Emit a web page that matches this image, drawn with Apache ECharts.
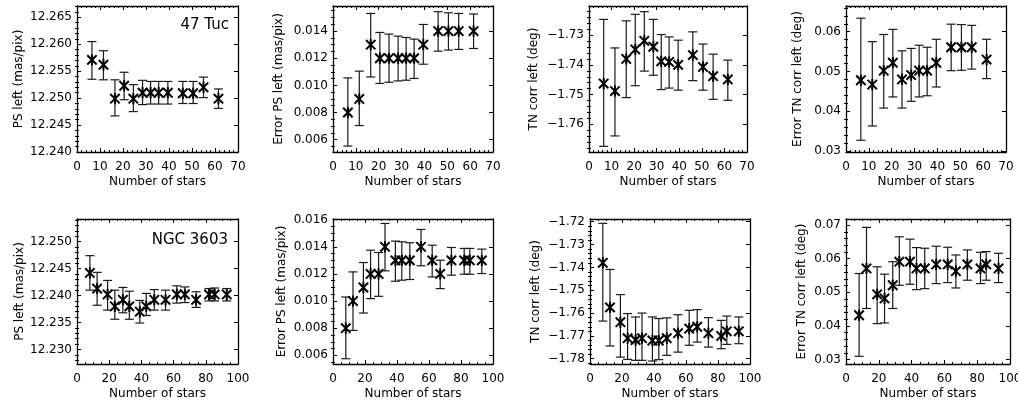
<!DOCTYPE html>
<html>
<head>
<meta charset="utf-8">
<script src="https://cdn.jsdelivr.net/npm/echarts@6/dist/echarts.min.js"></script>
<style>html,body{margin:0;padding:0;background:#fff}#c{width:1018px;height:405px}</style>
</head>
<body>
<div id="c"></div>
<script>
// ---------- data ----------
const xTop = [6.5, 11.5, 16.5, 20.5, 24.5, 28.5, 32, 35.5, 39.5, 46, 50.5, 55, 61.5];
const xBot = [8, 12.5, 19, 23.5, 28.5, 32.5, 39, 43, 48, 55, 62, 67, 74, 82, 85.5, 93];

const xTicksTop = [0, 10, 20, 30, 40, 50, 60, 70];
const xTicksBot = [0, 20, 40, 60, 80, 100];

// 47 Tuc
const psTuc   = [12.2571, 12.2562, 12.2499, 12.2523, 12.2499, 12.2510, 12.2510, 12.2510, 12.2510, 12.2509, 12.2509, 12.2520, 12.2499];
const psTucLo = [12.2535, 12.2534, 12.2467, 12.2497, 12.2475, 12.2488, 12.2489, 12.2489, 12.2489, 12.2490, 12.2490, 12.2501, 12.2481];
const psTucHi = [12.2605, 12.2588, 12.2534, 12.2548, 12.2525, 12.2533, 12.2531, 12.2531, 12.2531, 12.2531, 12.2531, 12.2539, 12.2517];

const epsTuc   = [0.0080, 0.0090, 0.0130, 0.0120, 0.0120, 0.0120, 0.0120, 0.0120, 0.0130, 0.0140, 0.0140, 0.0140, 0.0140];
const epsTucLo = [0.00553, 0.00704, 0.01062, 0.01014, 0.01023, 0.01033, 0.01038, 0.01051, 0.01156, 0.01252, 0.01260, 0.01265, 0.01272];
const epsTucHi = [0.01055, 0.01105, 0.01530, 0.01390, 0.01378, 0.01363, 0.01353, 0.01341, 0.01449, 0.01543, 0.01535, 0.01530, 0.01526];

const tnTuc   = [-1.7463, -1.7488, -1.7380, -1.7348, -1.7319, -1.7339, -1.7388, -1.7390, -1.7400, -1.7367, -1.7407, -1.7438, -1.7449];
const tnTucLo = [-1.7674, -1.7639, -1.7510, -1.7470, -1.7421, -1.7435, -1.7483, -1.7478, -1.7485, -1.7453, -1.7485, -1.7516, -1.7519];
const tnTucHi = [-1.7247, -1.7343, -1.7252, -1.7230, -1.7221, -1.7247, -1.7298, -1.7306, -1.7317, -1.7289, -1.7330, -1.7364, -1.7384];

const etnTuc   = [0.0478, 0.0467, 0.0502, 0.0522, 0.0480, 0.0491, 0.0502, 0.0502, 0.0522, 0.0561, 0.0561, 0.0561, 0.0530];
const etnTucLo = [0.0327, 0.0363, 0.0408, 0.0436, 0.0408, 0.0425, 0.0436, 0.0439, 0.0461, 0.0502, 0.0503, 0.0506, 0.0482];
const etnTucHi = [0.0634, 0.0575, 0.0593, 0.0606, 0.0552, 0.0558, 0.0566, 0.0561, 0.0581, 0.0619, 0.0618, 0.0616, 0.0581];

// NGC 3603
const psNgc   = [12.2442, 12.2413, 12.2402, 12.2380, 12.2392, 12.2380, 12.2370, 12.2380, 12.2392, 12.2392, 12.2402, 12.2402, 12.2392, 12.2402, 12.2402, 12.2402];
const psNgcLo = [12.2410, 12.2382, 12.2373, 12.2356, 12.2368, 12.2356, 12.2349, 12.2363, 12.2373, 12.2373, 12.2386, 12.2387, 12.2378, 12.2390, 12.2390, 12.2390];
const psNgcHi = [12.2474, 12.2443, 12.2428, 12.2410, 12.2415, 12.2408, 12.2391, 12.2404, 12.2411, 12.2410, 12.2418, 12.2416, 12.2407, 12.2413, 12.2414, 12.2413];

const epsNgc   = [0.0080, 0.0100, 0.0110, 0.0120, 0.0120, 0.0140, 0.0130, 0.0130, 0.0130, 0.0140, 0.0130, 0.0120, 0.0130, 0.0130, 0.0130, 0.0130];
const epsNgcLo = [0.00575, 0.00784, 0.00912, 0.01018, 0.01035, 0.01223, 0.01146, 0.01154, 0.01159, 0.01260, 0.01178, 0.01092, 0.01191, 0.01198, 0.01198, 0.01203];
const epsNgcHi = [0.01030, 0.01215, 0.01284, 0.01375, 0.01358, 0.01572, 0.01442, 0.01437, 0.01430, 0.01528, 0.01412, 0.01301, 0.01395, 0.01388, 0.01388, 0.01383];

const tnNgc   = [-1.7380, -1.7575, -1.7640, -1.7710, -1.7718, -1.7710, -1.7720, -1.7720, -1.7710, -1.7688, -1.7668, -1.7660, -1.7688, -1.7700, -1.7680, -1.7680];
const tnNgcLo = [-1.7635, -1.7744, -1.7793, -1.7803, -1.7807, -1.7807, -1.7810, -1.7804, -1.7785, -1.7771, -1.7741, -1.7727, -1.7749, -1.7756, -1.7737, -1.7734];
const tnNgcHi = [-1.7207, -1.7409, -1.7519, -1.7602, -1.7617, -1.7600, -1.7617, -1.7624, -1.7621, -1.7607, -1.7588, -1.7585, -1.7620, -1.7632, -1.7613, -1.7617];

const etnNgc   = [0.0432, 0.0571, 0.0494, 0.0482, 0.0521, 0.0591, 0.0591, 0.0571, 0.0571, 0.0583, 0.0583, 0.0563, 0.0583, 0.0571, 0.0583, 0.0571];
const etnNgcLo = [0.0310, 0.0452, 0.0407, 0.0409, 0.0452, 0.0521, 0.0524, 0.0508, 0.0511, 0.0526, 0.0529, 0.0513, 0.0536, 0.0526, 0.0536, 0.0529];
const etnNgcHi = [0.0556, 0.0693, 0.0576, 0.0554, 0.0591, 0.0665, 0.0658, 0.0633, 0.0631, 0.0637, 0.0634, 0.0611, 0.0626, 0.0619, 0.0621, 0.0616];

// y tick labels
const yTicksPsTuc  = [12.240, 12.245, 12.250, 12.255, 12.260, 12.265];
const yTicksEpsTuc = [0.006, 0.008, 0.010, 0.012, 0.014];
const yTicksTnTuc  = [-1.76, -1.75, -1.74, -1.73];
const yTicksEtnTuc = [0.03, 0.04, 0.05, 0.06];
const yTicksPsNgc  = [12.230, 12.235, 12.240, 12.245, 12.250];
const yTicksEpsNgc = [0.006, 0.008, 0.010, 0.012, 0.014, 0.016];
const yTicksTnNgc  = [-1.78, -1.77, -1.76, -1.75, -1.74, -1.73, -1.72];
const yTicksEtnNgc = [0.03, 0.04, 0.05, 0.06, 0.07];

// axis ranges
const yRangePsTuc  = [12.2400, 12.2671];
const yRangeEpsTuc = [0.00509, 0.01585];
const yRangeTnTuc  = [-1.7693, -1.7202];
const yRangeEtnTuc = [0.02975, 0.06647];
const yRangePsNgc  = [12.2273, 12.2542];
const yRangeEpsNgc = [0.00536, 0.01605];
const yRangeTnNgc  = [-1.7823, -1.7188];
const yRangeEtnNgc = [0.02871, 0.07179];

// ---------- layout ----------
const FONT = 'DejaVu Sans';
const panels = [
  {g:[77,6,161,146],  x:xTop, xt:xTicksTop, xm:5, y:psTuc,  lo:psTucLo,  hi:psTucHi,  yr:yRangePsTuc,  yt:yTicksPsTuc,  dec:3, ym:5, name:'PS left (mas/pix)',        gap:52, lm:9, ng:24},
  {g:[333,6,160,146], x:xTop, xt:xTicksTop, xm:5, y:epsTuc, lo:epsTucLo, hi:epsTucHi, yr:yRangeEpsTuc, yt:yTicksEpsTuc, dec:3, ym:4, name:'Error PS left (mas/pix)',  gap:48, lm:9, ng:24},
  {g:[589,6,158,146], x:xTop, xt:xTicksTop, xm:5, y:tnTuc,  lo:tnTucLo,  hi:tnTucHi,  yr:yRangeTnTuc,  yt:yTicksTnTuc,  dec:2, ym:5, name:'TN corr left (deg)',       gap:49, lm:9, ng:24},
  {g:[846,6,160,146], x:xTop, xt:xTicksTop, xm:5, y:etnTuc, lo:etnTucLo, hi:etnTucHi, yr:yRangeEtnTuc, yt:yTicksEtnTuc, dec:2, ym:5, name:'Error TN corr left (deg)', gap:42, lm:9, ng:24},
  {g:[77,219,161,145],  x:xBot, xt:xTicksBot, xm:4, y:psNgc,  lo:psNgcLo,  hi:psNgcHi,  yr:yRangePsNgc,  yt:yTicksPsNgc,  dec:3, ym:5, name:'PS left (mas/pix)',        gap:48, lm:9, ng:24},
  {g:[333,219,160,145], x:xBot, xt:xTicksBot, xm:4, y:epsNgc, lo:epsNgcLo, hi:epsNgcHi, yr:yRangeEpsNgc, yt:yTicksEpsNgc, dec:3, ym:4, name:'Error PS left (mas/pix)',  gap:45, lm:9, ng:24},
  {g:[590,219,160,145], x:xBot, xt:xTicksBot, xm:4, y:tnNgc,  lo:tnNgcLo,  hi:tnNgcHi,  yr:yRangeTnNgc,  yt:yTicksTnNgc,  dec:2, ym:5, name:'TN corr left (deg)',       gap:48, lm:9, ng:24},
  {g:[846,219,164,145], x:xBot, xt:xTicksBot, xm:4, y:etnNgc, lo:etnNgcLo, hi:etnNgcHi, yr:yRangeEtnNgc, yt:yTicksEtnNgc, dec:2, ym:5, name:'Error TN corr left (deg)', gap:38, lm:9, ng:24}
];

function minorValues(ticks, n, lo, hi) {
  const step = (ticks[1] - ticks[0]) / n;
  const out = [];
  for (let k = -200; k <= 200; k++) {
    const v = ticks[0] + k * step;
    if (v < lo - step * 1e-3 || v > hi + step * 1e-3) continue;
    if (k % n === 0) continue;
    out.push(v);
  }
  return out;
}

const line = {color: '#000', width: 1.3};
const grids = [], xAxes = [], yAxes = [], series = [];

panels.forEach((p, i) => {
  grids.push({left: p.g[0], top: p.g[1], width: p.g[2], height: p.g[3], containLabel: false, outerBoundsMode: 'none'});
  const xmax = p.xt[p.xt.length - 1];
  const xint = p.xt[1] - p.xt[0];
  const xBase = {
    gridIndex: i, type: 'value', min: p.xt[0], max: xmax, interval: xint,
    splitLine: {show: false},
    axisLine: {show: true, onZero: false, lineStyle: line},
    axisTick: {show: true, inside: true, length: 4, lineStyle: {color: '#000', width: 1}},
    minorTick: {show: true, splitNumber: p.xm, length: 2, lineStyle: {color: '#000', width: 1}}
  };
  xAxes.push(Object.assign({}, xBase, {
    position: 'bottom',
    axisLabel: {show: true, margin: p.lm, fontSize: 12, fontFamily: FONT, color: '#000'},
    name: 'Number of stars', nameLocation: 'middle', nameGap: p.ng,
    nameTextStyle: {fontSize: 12, fontFamily: FONT, color: '#000'}
  }));
  xAxes.push(Object.assign({}, xBase, {position: 'top', axisLabel: {show: false}}));

  const minors = minorValues(p.yt, p.ym, p.yr[0], p.yr[1]);
  const fmt = v => v.toFixed(p.dec).replace('-', '\u2212');
  const yBase = {gridIndex: i, type: 'value', min: p.yr[0], max: p.yr[1], splitLine: {show: false}};
  yAxes.push(Object.assign({}, yBase, {
    position: 'left',
    axisLine: {show: true, onZero: false, lineStyle: line},
    axisTick: {show: true, inside: true, length: 4, customValues: p.yt, lineStyle: {color: '#000', width: 1}},
    axisLabel: {show: true, customValues: p.yt, formatter: fmt, margin: 5, fontSize: 12, fontFamily: FONT, color: '#000'},
    name: p.name, nameLocation: 'middle', nameGap: p.gap, nameRotate: 90,
    nameTextStyle: {fontSize: 12, fontFamily: FONT, color: '#000'}
  }));
  yAxes.push(Object.assign({}, yBase, {
    position: 'left', offset: 0,
    axisLine: {show: false},
    axisTick: {show: true, inside: true, length: 2, customValues: minors, lineStyle: {color: '#000', width: 1}},
    axisLabel: {show: false}
  }));
  yAxes.push(Object.assign({}, yBase, {
    position: 'right',
    axisLine: {show: true, onZero: false, lineStyle: line},
    axisTick: {show: true, inside: true, length: 4, customValues: p.yt, lineStyle: {color: '#000', width: 1}},
    axisLabel: {show: false}
  }));
  yAxes.push(Object.assign({}, yBase, {
    position: 'right', offset: 0,
    axisLine: {show: false},
    axisTick: {show: true, inside: true, length: 2, customValues: minors, lineStyle: {color: '#000', width: 1}},
    axisLabel: {show: false}
  }));

  const data = p.x.map((xv, k) => [xv, p.y[k], p.lo[k], p.hi[k]]);
  series.push({
    type: 'custom',
    xAxisIndex: 2 * i,
    yAxisIndex: 4 * i,
    data: data,
    encode: {x: 0, y: [1, 2, 3]},
    clip: false,
    renderItem: function (params, api) {
      const xv = api.value(0);
      const c = api.coord([xv, api.value(1)]);
      const l = api.coord([xv, api.value(2)]);
      const h = api.coord([xv, api.value(3)]);
      const cw = 4.5, s = 5.6, d = 4.7;
      const bar = {stroke: '#1a1a1a', lineWidth: 1.2};
      const ast = {stroke: '#000', lineWidth: 2};
      return {
        type: 'group',
        children: [
          {type: 'line', shape: {x1: c[0], y1: h[1], x2: c[0], y2: l[1]}, style: bar},
          {type: 'line', shape: {x1: c[0] - cw, y1: h[1], x2: c[0] + cw, y2: h[1]}, style: bar},
          {type: 'line', shape: {x1: c[0] - cw, y1: l[1], x2: c[0] + cw, y2: l[1]}, style: bar},
          {type: 'line', shape: {x1: c[0], y1: c[1] - s, x2: c[0], y2: c[1] + s}, style: ast},
          {type: 'line', shape: {x1: c[0] - d, y1: c[1] - d, x2: c[0] + d, y2: c[1] + d}, style: ast},
          {type: 'line', shape: {x1: c[0] - d, y1: c[1] + d, x2: c[0] + d, y2: c[1] - d}, style: ast}
        ]
      };
    }
  });
});

const chart = echarts.init(document.getElementById('c'), null, {renderer: 'canvas'});
chart.setOption({
  backgroundColor: '#fff',
  animation: false,
  textStyle: {fontFamily: FONT, color: '#000'},
  grid: grids,
  xAxis: xAxes,
  yAxis: yAxes,
  series: series,
  graphic: [
    {type: 'text', right: 1018 - 229, top: 18, style: {text: '47 Tuc', font: '15px "DejaVu Sans"', fill: '#000'}},
    {type: 'text', right: 1018 - 228, top: 233, style: {text: 'NGC 3603', font: '15px "DejaVu Sans"', fill: '#000'}}
  ]
});
</script>
</body>
</html>
